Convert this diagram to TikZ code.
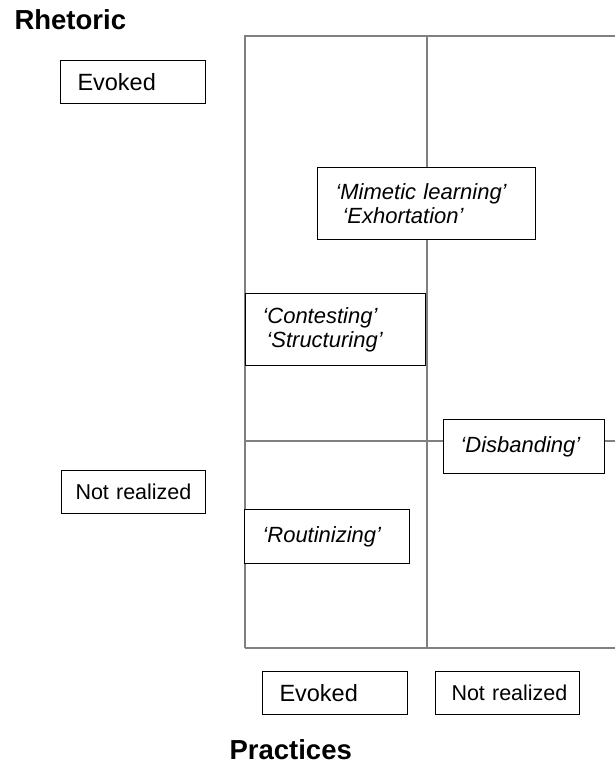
\documentclass[tikz,border=0pt]{standalone}
\usepackage{fontspec}
\setmainfont{Liberation Sans}
\usetikzlibrary{positioning}

\begin{document}
\begin{tikzpicture}[x=1pt, y=-1pt,
            caja/.style={rectangle, draw, fill=white, line width=1pt, inner xsep=17pt, inner ysep=0pt,
                         align=left, anchor=north west, text width=#1, font=\fontsize{22}{24}\selectfont},
            caja/.default=111pt,
            marco/.style={draw=black!50, line width=1.4pt},
            titulo/.style={anchor=base west, font=\fontsize{27.5}{30}\selectfont\bfseries}]

            \useasboundingbox (0,0) rectangle (615,767);

            % ejes de la matriz
            \draw[marco] (245,648) -- (245,36) -- (615,36);
            \draw[marco] (427,36) -- (427,648);
            \draw[marco] (245,441) -- (615,441);
            \draw[marco] (245,648) -- (615,648);

            % titulos
            \node[titulo] (ret) at (11,30) {Rhetoric};
            \node[titulo] (pra) at (226,759) {Practices};

            % niveles
            \node[caja, minimum height=43pt, font=\fontsize{23.5}{26}\selectfont] (rEvo) at (60,60) {Evoked};
            \node[caja=120pt, inner xsep=12pt, minimum height=43pt, font=\fontsize{21.5}{24}\selectfont] (rNot) at (61,470) {\hspace*{2pt}Not realized};
            \node[caja, minimum height=43pt, font=\fontsize{23.5}{26}\selectfont] (pEvo) at (262,671) {Evoked};
            \node[caja=120pt, inner xsep=12pt, minimum height=43pt, font=\fontsize{21.5}{24}\selectfont] (pNot) at (435,671) {\hspace*{4pt}Not realized};

            % mecanismos
            \node[caja=182pt, minimum height=72pt, inner xsep=18pt, font=\fontsize{22}{24}\selectfont\itshape] (mim) at (317,167)
                {`Mimetic learning'\\\hspace*{7pt}`Exhortation'};
            \node[caja=146pt, minimum height=72pt, font=\fontsize{22}{24}\selectfont\itshape] (con) at (245,293)
                {`Contesting'\\\hspace*{4pt}`Structuring'};
            \node[caja=127pt, minimum height=54pt, font=\fontsize{22}{24}\selectfont\itshape] (dis) at (443,419) {`Disbanding'};
            \node[caja=129pt, minimum height=54pt, inner xsep=18pt, font=\fontsize{22}{24}\selectfont\itshape] (rut) at (244,509) {`Routinizing'};
        \end{tikzpicture}
\end{document}
